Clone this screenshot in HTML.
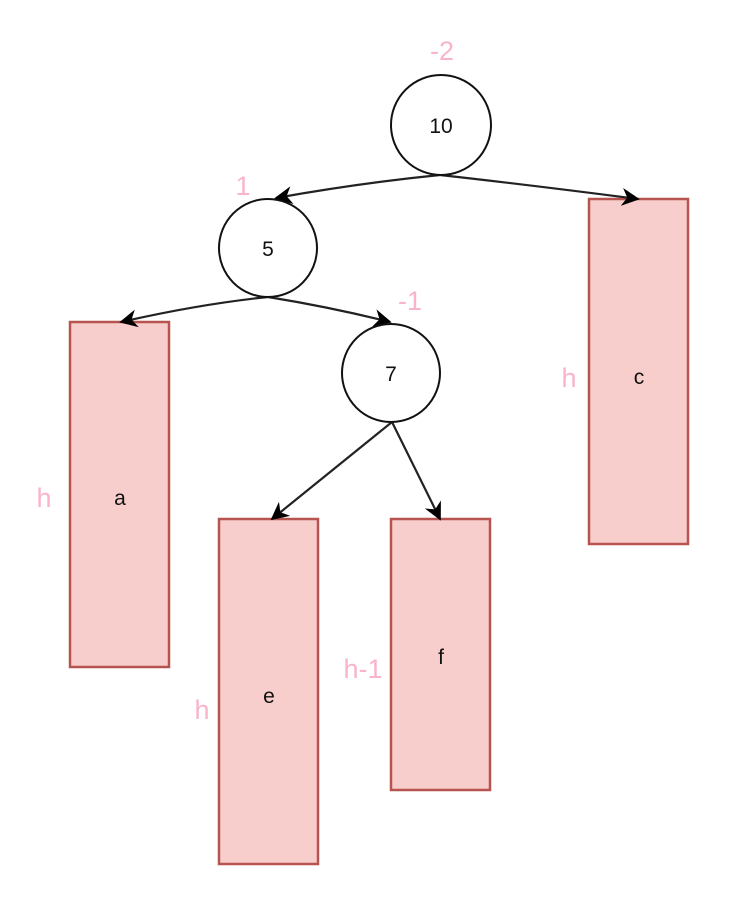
<!DOCTYPE html>
<html><head><meta charset="utf-8"><style>html,body{margin:0;padding:0;background:#fff}</style></head>
<body>
<svg width="747" height="896" viewBox="0 0 747 896" xmlns="http://www.w3.org/2000/svg">
<defs><marker id="ar" viewBox="0 0 10 10" refX="9" refY="5" markerWidth="7" markerHeight="7" orient="auto" markerUnits="userSpaceOnUse">
<path d="M0,0 L10,5 L0,10 L3,5 Z" fill="#000"/></marker>
<marker id="a2" viewBox="0 0 10 10" refX="9" refY="5" markerWidth="18" markerHeight="18" orient="auto" markerUnits="userSpaceOnUse"><path d="M0,0 L10,5 L0,10 L3,5 Z" fill="#000"/></marker></defs>
<g fill="#f8cecc" stroke="#b85450" stroke-width="2.5">
<rect x="589" y="199" width="99" height="345"/>
<rect x="70" y="322" width="99" height="345"/>
<rect x="219" y="519" width="99" height="345"/>
<rect x="391" y="519" width="99" height="271"/>
</g>
<g stroke="#222" stroke-width="2.2" fill="none">
<path d="M440,175 Q360,183 276,198" marker-end="url(#a2)"/>
<path d="M440,175 Q530,185 638,199" marker-end="url(#a2)"/>
<path d="M268,297 Q200,304 121,322" marker-end="url(#a2)"/>
<path d="M268,297 Q330,307 390,322" marker-end="url(#a2)"/>
<path d="M392,422 L272,519" marker-end="url(#a2)"/>
<path d="M392,422 L440,519" marker-end="url(#a2)"/>
</g>
<g fill="#fff" stroke="#111" stroke-width="2">
<circle cx="441" cy="125" r="50"/>
<circle cx="268" cy="248" r="49"/>
<circle cx="391" cy="373" r="49"/>
</g>
<g font-family="Liberation Sans, sans-serif" font-size="21" fill="#111" text-anchor="middle">
<text x="441" y="133">10</text>
<text x="268" y="256">5</text>
<text x="391" y="381">7</text>
<text x="639" y="384">c</text>
<text x="120" y="505">a</text>
<text x="269" y="703">e</text>
<text x="441" y="664">f</text>
</g>
<g font-family="Liberation Sans, sans-serif" font-size="27" fill="#f9b4cb" text-anchor="middle">
<text x="442" y="60">-2</text>
<text x="243" y="195">1</text>
<text x="410" y="310">-1</text>
<text x="569" y="387">h</text>
<text x="44" y="507">h</text>
<text x="202" y="719">h</text>
<text x="363" y="678">h-1</text>
</g>
</svg>
</body></html>
